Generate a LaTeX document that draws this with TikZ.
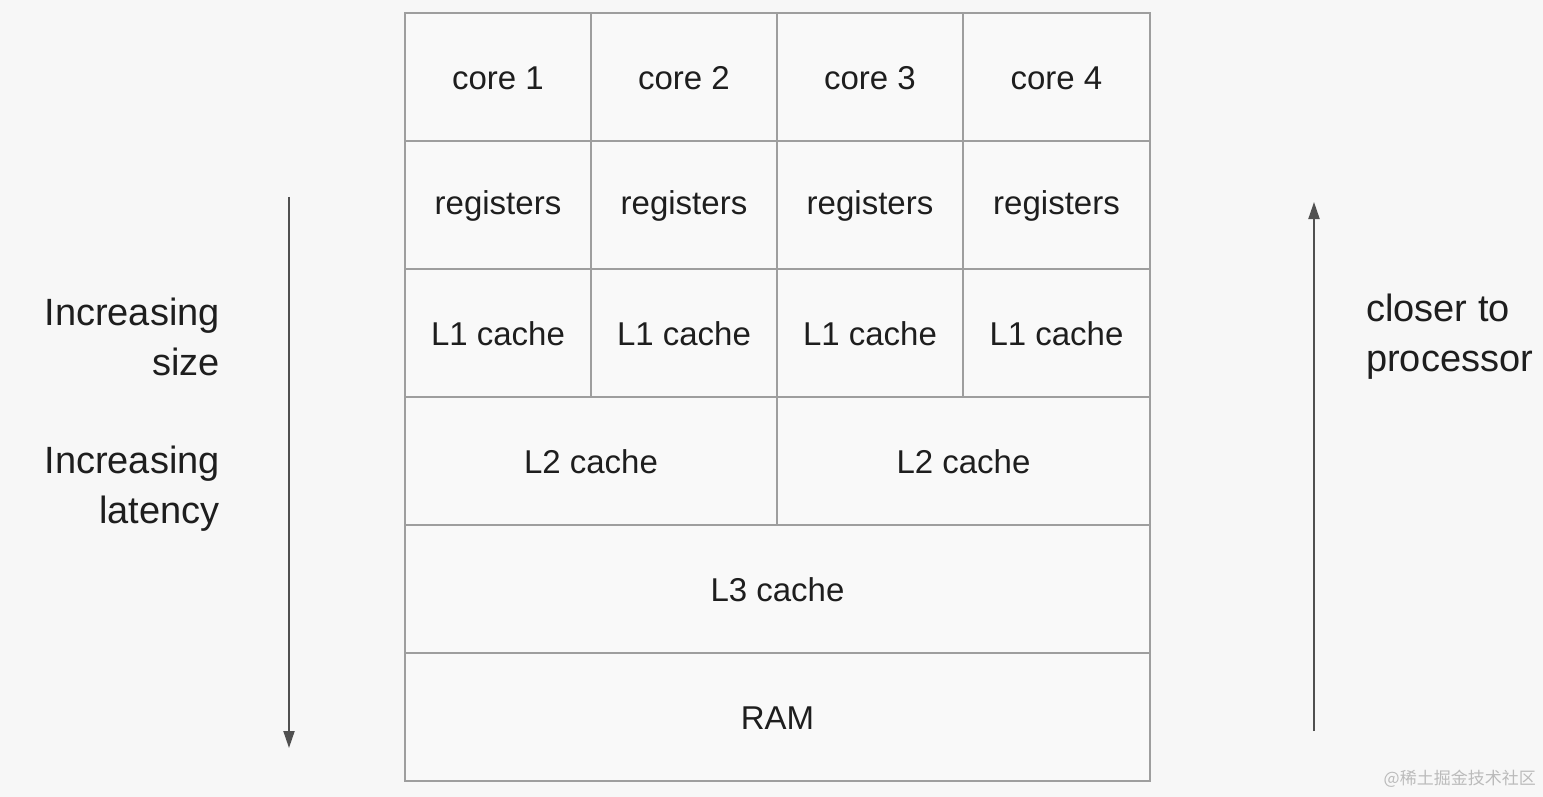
\documentclass[tikz,border=0pt]{standalone}
\usepackage{fontspec}
\setmainfont{Liberation Sans}
\newfontfamily\cjk{Noto Sans CJK SC}
\usetikzlibrary{arrows.meta}
\definecolor{bg}{HTML}{F7F7F7}
\definecolor{cellfill}{HTML}{F9F9F9}
\definecolor{gridline}{HTML}{9E9E9E}
\definecolor{txt}{HTML}{1E1E1E}
\definecolor{arrowc}{HTML}{505050}
\definecolor{wm}{HTML}{BBBBBB}
\begin{document}
\begin{tikzpicture}[x=1pt,y=-1pt,
  cell/.style={draw=gridline,line width=2pt,fill=cellfill,inner sep=0pt,font=\fontsize{33}{40}\selectfont,text=txt},
  sidetext/.style={font=\fontsize{38}{50}\selectfont,text=txt,inner sep=0pt},
  hier/.style={draw=arrowc,line width=2pt,-{Triangle[length=17pt,width=11pt]}}]
\useasboundingbox[fill=bg] (0,0) rectangle (1543,797);
% cores, registers, L1 rows
\foreach \i/\xa/\xb in {1/405/591,2/591/777,3/777/963,4/963/1150}{
  \draw[cell] (\xa,13) rectangle (\xb,141);
  \node[cell,draw=none,fill=none] (core\i) at ({(\xa+\xb)/2},78) {core \i};
  \draw[cell] (\xa,141) rectangle (\xb,269);
  \node[cell,draw=none,fill=none] (reg\i) at ({(\xa+\xb)/2},206) {registers};
  \draw[cell] (\xa,269) rectangle (\xb,397);
  \node[cell,draw=none,fill=none] (lone\i) at ({(\xa+\xb)/2},334) {L1 cache};
}
\draw[cell] (405,397) rectangle (777,525);
\node[cell,draw=none,fill=none] (ltwoa) at (591,462) {L2 cache};
\draw[cell] (777,397) rectangle (1150,525);
\node[cell,draw=none,fill=none] (ltwob) at (963.5,462) {L2 cache};
\draw[cell] (405,525) rectangle (1150,653);
\node[cell,draw=none,fill=none] (lthree) at (777.5,590) {L3 cache};
\draw[cell] (405,653) rectangle (1150,781);
\node[cell,draw=none,fill=none] (ram) at (777.5,718) {RAM};
% arrows
\coordinate (ldtop) at (289,197);
\coordinate (ldbot) at (289,748);
\draw[hier] (ldtop) -- (ldbot);
\coordinate (rubot) at (1314,731);
\coordinate (rutop) at (1314,202);
\draw[hier] (rubot) -- (rutop);
% side texts
\node[sidetext,align=right,anchor=east] (sizet) at (220,337) {Increasing\\size};
\node[sidetext,align=right,anchor=east] (latt) at (220,489) {Increasing\\latency};
\node[sidetext,align=left,anchor=west] (closer) at (1366,337) {closer to\\processor};
% watermark
\node[anchor=east,inner sep=0pt,text=wm,font=\cjk\fontsize{17}{20}\selectfont] (wmark) at (1536,779) {@稀土掘金技术社区};
\end{tikzpicture}
\end{document}
